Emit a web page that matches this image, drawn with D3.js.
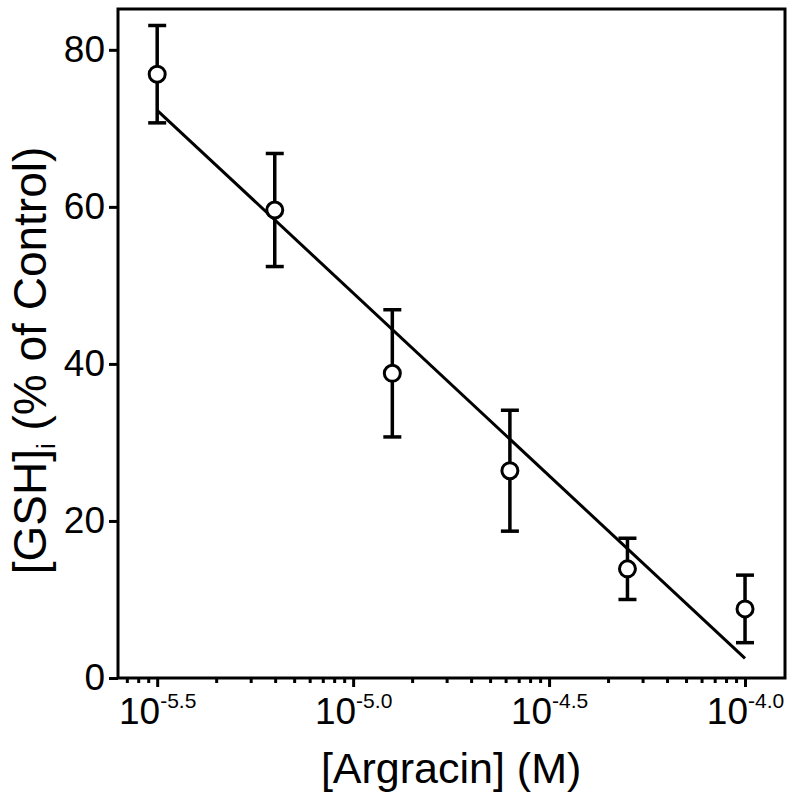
<!DOCTYPE html>
<html>
<head>
<meta charset="utf-8">
<script src="https://cdn.jsdelivr.net/npm/d3@7"></script>
<style>
  body { margin: 0; background: #fff; }
  svg text { font-family: "Liberation Sans", Arial, sans-serif; fill: #000; }
</style>
</head>
<body>
<svg id="chart" width="796" height="797"></svg>
<script>
// GSH vs argracin concentration

// data (x in log10 M)
const concLog = [-5.5, -5.2, -4.9, -4.6, -4.3, -4.0];
const gshPct = [76.9, 59.6, 38.8, 26.4, 13.9, 8.8];
const gshErr = [6.2, 7.2, 8.1, 7.7, 3.9, 4.3];

// fitted regression line end points
const fitLog = [-5.5, -4.0];
const fitPct = [72.3, 2.5];

// axis ticks
const xMajor = [-5.5, -5.0, -4.5, -4.0];
const xTickLabels = ['-5.5', '-5.0', '-4.5', '-4.0'];
const yTicks = [0, 20, 40, 60, 80];

const margin = { top: 9, right: 11, bottom: 119, left: 118 };
const width = 796 - margin.left - margin.right;
const height = 797 - margin.top - margin.bottom;

const svg = d3.select('#chart');
const g = svg.append('g')
  .attr('transform', 'translate(' + margin.left + ',' + margin.top + ')');

const x = d3.scaleLinear().domain([-5.6, -3.898]).range([0, width]);
const y = d3.scaleLinear().domain([0, 85.2]).range([height, 0]);

// minor ticks: each half decade is split like a full log decade
var xMinor = [];
[-6.0, -5.5, -5.0, -4.5, -4.0].forEach(function (start) {
  for (var k = 2; k <= 9; k++) {
    var v = start + 0.5 * Math.log10(k);
    if (v > x.domain()[0] && v < x.domain()[1]) xMinor.push(v);
  }
});

// x axis
const xAxis = g.append('g')
  .attr('transform', 'translate(0,' + height + ')')
  .call(d3.axisBottom(x).tickValues(xMajor).tickSize(9).tickSizeOuter(0).tickFormat(''));
xAxis.select('.domain').remove();
xAxis.selectAll('.tick line').attr('stroke-width', 3);

xAxis.selectAll('.tick')
  .append('text')
  .attr('y', 46)
  .attr('text-anchor', 'middle')
  .attr('font-size', 37)
  .each(function (d, i) {
    const t = d3.select(this);
    t.append('tspan').text('10');
    t.append('tspan').attr('font-size', 21).attr('dy', -16).text(xTickLabels[i]);
  });

g.append('g')
  .attr('transform', 'translate(0,' + height + ')')
  .call(d3.axisBottom(x).tickValues(xMinor).tickSize(5).tickSizeOuter(0).tickFormat(''))
  .call(function (a) { a.select('.domain').remove(); })
  .selectAll('.tick line').attr('stroke-width', 3);

// y axis
const yAxis = g.append('g')
  .call(d3.axisLeft(y).tickValues(yTicks).tickSize(9).tickSizeOuter(0).tickPadding(4));
yAxis.select('.domain').remove();
yAxis.selectAll('.tick line').attr('stroke-width', 3);
yAxis.selectAll('.tick text')
  .attr('font-size', 37)
  .attr('font-family', '"Liberation Sans", Arial, sans-serif');

// frame
g.append('rect')
  .attr('width', width)
  .attr('height', height)
  .attr('fill', 'none')
  .attr('stroke', '#000')
  .attr('stroke-width', 3);

// fit line
g.append('line')
  .attr('x1', x(fitLog[0])).attr('y1', y(fitPct[0]))
  .attr('x2', x(fitLog[1])).attr('y2', y(fitPct[1]))
  .attr('stroke', '#000')
  .attr('stroke-width', 3);

// error bars
const pts = concLog.map(function (c, i) { return { c: c, v: gshPct[i], e: gshErr[i] }; });
const capW = 9;

const bars = g.selectAll('g.err')
  .data(pts)
  .enter()
  .append('g')
  .attr('class', 'err')
  .attr('stroke', '#000')
  .attr('stroke-width', 3.5);

bars.append('line')
  .attr('x1', function (d) { return x(d.c); })
  .attr('x2', function (d) { return x(d.c); })
  .attr('y1', function (d) { return y(d.v + d.e); })
  .attr('y2', function (d) { return y(d.v - d.e); });

bars.append('line')
  .attr('x1', function (d) { return x(d.c) - capW; })
  .attr('x2', function (d) { return x(d.c) + capW; })
  .attr('y1', function (d) { return y(d.v + d.e); })
  .attr('y2', function (d) { return y(d.v + d.e); });

bars.append('line')
  .attr('x1', function (d) { return x(d.c) - capW; })
  .attr('x2', function (d) { return x(d.c) + capW; })
  .attr('y1', function (d) { return y(d.v - d.e); })
  .attr('y2', function (d) { return y(d.v - d.e); });

// points
g.selectAll('circle.pt')
  .data(pts)
  .enter()
  .append('circle')
  .attr('class', 'pt')
  .attr('cx', function (d) { return x(d.c); })
  .attr('cy', function (d) { return y(d.v); })
  .attr('r', 8)
  .attr('fill', '#fff')
  .attr('stroke', '#000')
  .attr('stroke-width', 3);

// axis titles
svg.append('text')
  .attr('x', margin.left + x(-4.75))
  .attr('y', 783)
  .attr('text-anchor', 'middle')
  .attr('font-size', 43)
  .text('[Argracin] (M)');

const yt = svg.append('text')
  .attr('transform', 'translate(46,' + (margin.top + height / 2 + 17) + ') rotate(-90)')
  .attr('text-anchor', 'middle')
  .attr('font-size', 46);
yt.append('tspan').text('[GSH]');
yt.append('tspan').attr('font-size', 26).attr('dy', 9).text('i');
yt.append('tspan').attr('dy', -9).text(' (% of Control)');
</script>
</body>
</html>
